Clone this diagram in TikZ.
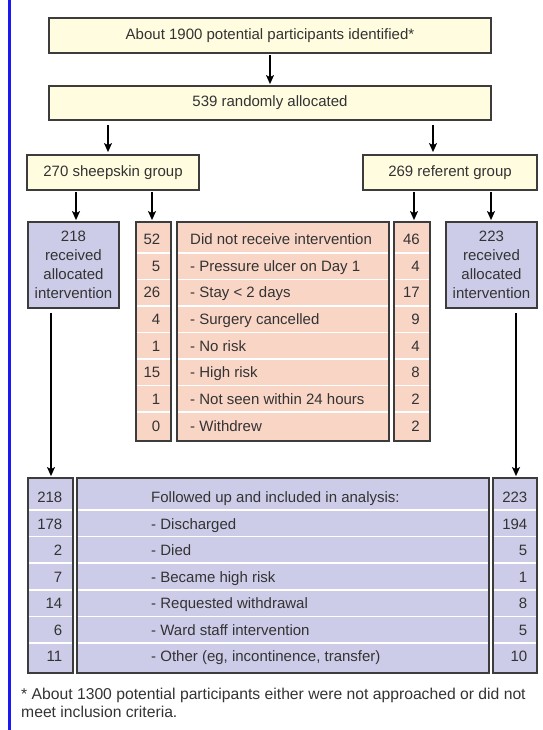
\documentclass[tikz,border=0pt]{standalone}
\usepackage{fontspec}
\setmainfont{Liberation Sans}
\usetikzlibrary{arrows.meta}
\definecolor{cream}{HTML}{FFFCE0}
\definecolor{pinkf}{HTML}{F9D5C6}
\definecolor{purpf}{HTML}{CCCCE8}
\definecolor{edgec}{HTML}{3C3C3C}
\definecolor{txt}{HTML}{333333}
\definecolor{bluel}{HTML}{1A1AF0}
\begin{document}
\begin{tikzpicture}[x=1pt,y=-1pt,
  every node/.style={font=\fontsize{15}{19}\selectfont, text=txt},
  box/.style={draw=edgec, line width=1.8pt, inner sep=0pt},
  cbox/.style={box, fill=cream},
  pbox/.style={box, fill=pinkf},
  ubox/.style={box, fill=purpf},
  arr/.style={line width=1.4pt, draw=black, -{Stealth[length=9pt,width=8pt,inset=2pt]}},
  sep/.style={draw=white, line width=1.5pt},
  lt/.style={anchor=base west, inner sep=0pt},
  rt/.style={anchor=base east, inner sep=0pt},
  foot/.style={anchor=base west, inner sep=0pt, font=\fontsize{15.7}{18}\selectfont}
]
\useasboundingbox (0,0) rectangle (542,730);
\fill[bluel] (8,0) rectangle (10.5,730);

% top boxes
\node[cbox, minimum width=442pt, minimum height=35pt] (top) at (270,35.5) {About 1900 potential participants identified*};
\node[cbox, minimum width=442pt, minimum height=34pt] (rand) at (270,103) {539 randomly allocated};
\node[cbox, minimum width=172pt, minimum height=35pt] (sheep) at (113,172.5) {270 sheepskin group};
\node[cbox, minimum width=174pt, minimum height=35pt] (ref) at (450,172.5) {269 referent group};

% received boxes
\node[ubox, minimum width=91pt, minimum height=86pt, align=center] (recL) at (73.5,265) {218\\received\\allocated\\intervention};
\node[ubox, minimum width=91pt, minimum height=86pt, align=center] (recR) at (491.5,265) {223\\received\\allocated\\intervention};

% did-not-receive table
\node[pbox, minimum width=35pt, minimum height=219pt] (numL) at (153.5,331.5) {};
\node[pbox, minimum width=212pt, minimum height=219pt] (mid) at (283,331.5) {};
\node[pbox, minimum width=36pt, minimum height=219pt] (numR) at (412,331.5) {};
\foreach \k in {0,...,6}{
  \pgfmathsetmacro{\yy}{253+26.5*\k}
  \draw[sep] (137.2,\yy) -- (169.8,\yy);
  \draw[sep] (178.2,\yy) -- (387.8,\yy);
  \draw[sep] (395.2,\yy) -- (428.8,\yy);
}
\foreach \t [count=\i] in {Did not receive intervention,- Pressure ulcer on Day 1,- Stay < 2 days,- Surgery cancelled,- No risk,- High risk,- Not seen within 24 hours,- Withdrew}{
  \pgfmathsetmacro{\yy}{244.3+26.7*(\i-1)}
  \node[lt] (mt\i) at (190,\yy) {\t};
}
\foreach \t [count=\i] in {52,5,26,4,1,15,1,0}{
  \pgfmathsetmacro{\yy}{244.3+26.7*(\i-1)}
  \node[rt] (nl\i) at (160.5,\yy) {\t};
}
\foreach \t [count=\i] in {46,4,17,9,4,8,2,2}{
  \pgfmathsetmacro{\yy}{244.3+26.7*(\i-1)}
  \node[rt] (nr\i) at (420,\yy) {\t};
}

% follow-up table
\node[ubox, minimum width=45pt, minimum height=195pt] (botL) at (50.5,575.5) {};
\node[ubox, minimum width=412pt, minimum height=195pt] (botM) at (283,575.5) {};
\node[ubox, minimum width=44pt, minimum height=195pt] (botR) at (515,575.5) {};
\foreach \k in {0,...,5}{
  \pgfmathsetmacro{\yy}{510+26.6*\k}
  \draw[sep] (29.2,\yy) -- (71.8,\yy);
  \draw[sep] (78.2,\yy) -- (487.8,\yy);
  \draw[sep] (494.2,\yy) -- (535.8,\yy);
}
\foreach \t [count=\i] in {Followed up and included in analysis:,- Discharged,- Died,- Became high risk,- Requested withdrawal,- Ward staff intervention,{- Other (eg, incontinence, transfer)}}{
  \pgfmathsetmacro{\yy}{502.7+26.5*(\i-1)}
  \node[lt] (bt\i) at (151,\yy) {\t};
}
\foreach \t [count=\i] in {218,178,2,7,14,6,11}{
  \pgfmathsetmacro{\yy}{502.7+26.5*(\i-1)}
  \node[rt] (bl\i) at (62.5,\yy) {\t};
}
\foreach \t [count=\i] in {223,194,5,1,8,5,10}{
  \pgfmathsetmacro{\yy}{502.7+26.5*(\i-1)}
  \node[rt] (br\i) at (527.5,\yy) {\t};
}

% footnote
\node[foot] (fn1) at (21,699) {* About 1300 potential participants either were not approached or did not};
\node[foot] (fn2) at (21,717) {meet inclusion criteria.};

% connectors
\coordinate (xa) at (108,0);
\coordinate (xb) at (433,0);
\coordinate (xc) at (76,0);
\coordinate (xd) at (152,0);
\coordinate (xe) at (414,0);
\coordinate (xf) at (491,0);
\coordinate (xg) at (51,0);
\coordinate (xh) at (516,0);
\draw[arr, shorten <=1.5pt, shorten >=1pt] (top.south) -- (rand.north);
\draw[arr, shorten <=4pt, shorten >=2pt] (rand.south -| xa) -- (sheep.north -| xa);
\draw[arr, shorten <=4pt, shorten >=2pt] (rand.south -| xb) -- (ref.north -| xb);
\draw[arr, shorten <=1pt, shorten >=1pt] (sheep.south -| xc) -- (recL.north -| xc);
\draw[arr, shorten <=1pt, shorten >=1pt] (sheep.south -| xd) -- (numL.north -| xd);
\draw[arr, shorten <=1pt, shorten >=1pt] (ref.south -| xe) -- (numR.north -| xe);
\draw[arr, shorten <=1pt, shorten >=1pt] (ref.south -| xf) -- (recR.north -| xf);
\draw[arr, shorten <=4pt, shorten >=1pt] (recL.south -| xg) -- (botL.north -| xg);
\draw[arr, shorten <=4pt, shorten >=1pt] (recR.south -| xh) -- (botR.north -| xh);
\end{tikzpicture}
\end{document}
